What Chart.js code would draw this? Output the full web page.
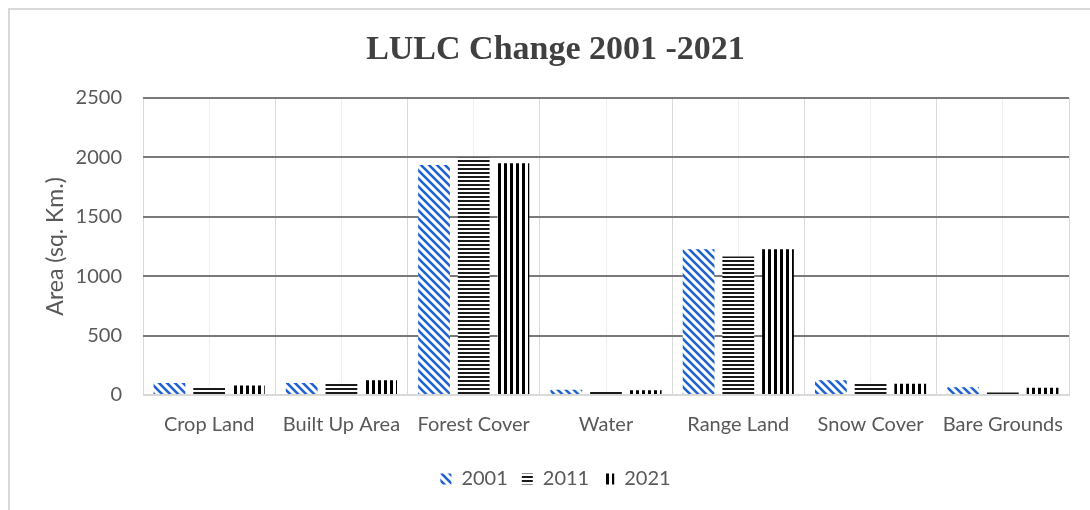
<!DOCTYPE html>
<html>
<head>
<meta charset="utf-8">
<script src="https://cdn.jsdelivr.net/npm/chart.js@4/dist/chart.umd.min.js"></script>
<style>
  html, body { margin: 0; padding: 0; background: #fff; overflow: hidden; }
  #frame { position: absolute; left: 8px; top: 8px; width: 1100px; height: 520px;
           border-left: 2px solid #d9d9d9; border-top: 2px solid #d9d9d9; }
  #wrap { position: absolute; left: 0; top: 0; width: 1090px; height: 510px; }
</style>
</head>
<body>
<div id="frame"></div>
<div id="wrap"><canvas id="lulcChart" width="1090" height="510"></canvas></div>
<script>
// --- Data ---
const categories = ['Crop Land', 'Built Up Area', 'Forest Cover', 'Water', 'Range Land', 'Snow Cover', 'Bare Grounds'];
const years = ['2001', '2011', '2021'];
const area2001 = [100, 100, 1935, 45, 1225, 125, 65];
const area2011 = [72, 110, 1995, 25, 1165, 105, 22];
const area2021 = [80, 125, 1950, 40, 1225, 95, 60];
const yTicks = [0, 500, 1000, 1500, 2000, 2500];

// --- Hatch patterns (white background so grid lines don't show through) ---
function makePattern(w, h, draw) {
    const c = document.createElement('canvas');
    c.width = w; c.height = h;
    const g = c.getContext('2d');
    g.fillStyle = '#ffffff';
    g.fillRect(0, 0, w, h);
    draw(g, w, h);
    return g.createPattern(c, 'repeat');
}

const ctx = document.getElementById('lulcChart').getContext('2d');

const diagBlue = makePattern(8, 8, function(g, s) {
    g.strokeStyle = '#1e62d0';
    g.lineWidth = 2.6;
    g.beginPath();
    g.moveTo(-1, -1); g.lineTo(s + 1, s + 1);
    g.moveTo(-s, 0); g.lineTo(s, 2 * s);
    g.moveTo(0, -s); g.lineTo(2 * s, s);
    g.stroke();
});
const horizBlack = makePattern(4, 4, function(g, w) {
    g.fillStyle = '#1a1a1a';
    g.fillRect(0, 0, w, 2);
});
const vertBlack = makePattern(6, 6, function(g, w, h) {
    g.fillStyle = '#000000';
    g.fillRect(0, 0, 3, h);
});

const fontName = 'Lato, "Open Sans", sans-serif';

new Chart(ctx, {
    type: 'bar',
    data: {
        labels: categories,
        datasets: [
            { label: years[0], data: area2001, backgroundColor: diagBlue, borderWidth: 0 },
            { label: years[1], data: area2011, backgroundColor: horizBlack, borderWidth: 0 },
            { label: years[2], data: area2021, backgroundColor: vertBlack, borderWidth: 0 }
        ]
    },
    options: {
        responsive: false,
        animation: false,
        categoryPercentage: 0.9,
        barPercentage: 0.8,
        layout: { padding: { left: 42, right: 21, top: 30, bottom: 11 } },
        plugins: {
            title: {
                display: true,
                text: 'LULC Change 2001 -2021',
                color: '#404040',
                font: { family: '"Liberation Serif", "Times New Roman", serif', size: 34, weight: 'bold' },
                padding: { top: 0, bottom: 27 }
            },
            legend: {
                position: 'bottom',
                labels: {
                    color: '#595959',
                    font: { family: fontName, size: 20 },
                    boxWidth: 11,
                    boxHeight: 11,
                    padding: 14
                }
            },
            tooltip: { enabled: false }
        },
        scales: {
            x: {
                grid: { offset: true, color: '#d9d9d9', lineWidth: 1, drawTicks: false },
                border: { color: '#d9d9d9', width: 1 },
                ticks: { color: '#595959', font: { family: fontName, size: 20 }, padding: 18 }
            },
            xMid: {
                type: 'category',
                position: 'bottom',
                grid: { offset: false, color: '#efefef', lineWidth: 1, drawTicks: false },
                border: { display: false },
                ticks: { display: false }
            },
            y: {
                min: 0,
                max: 2500,
                afterBuildTicks: function(scale) {
                    scale.ticks = yTicks.map(v => ({ value: v }));
                },
                afterFit: function(scale) { scale.width = 101; },
                grid: {
                    color: c => c.tick && c.tick.value === 0 ? '#d9d9d9' : '#7a7a7a',
                    lineWidth: 2,
                    drawTicks: false
                },
                border: { display: false },
                ticks: {
                    color: '#595959',
                    font: { family: fontName, size: 20 },
                    padding: 21,
                    callback: v => String(v)
                },
                title: {
                    display: true,
                    text: 'Area (sq. Km.)',
                    color: '#595959',
                    font: { family: fontName, size: 23 },
                    padding: 0
                }
            }
        }
    }
});
</script>
</body>
</html>
